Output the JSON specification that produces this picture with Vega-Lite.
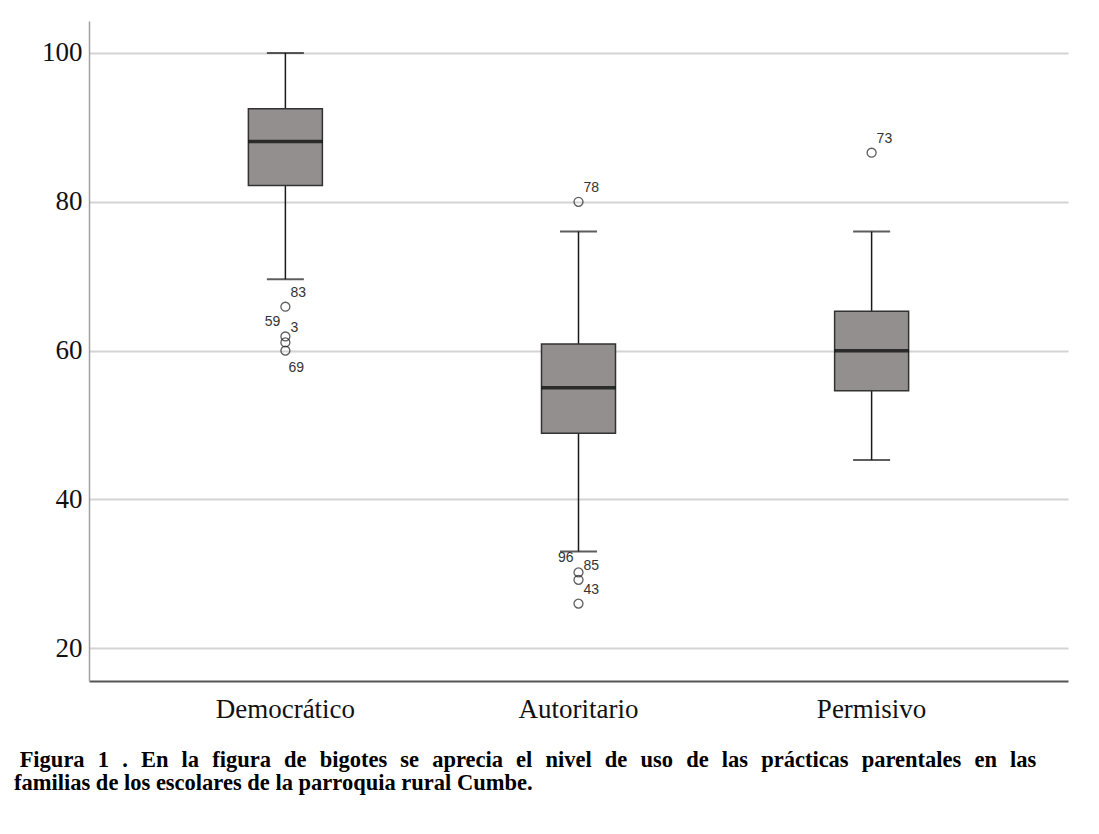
{
  "$schema": "https://vega.github.io/schema/vega-lite/v6.json",
  "width": 979,
  "height": 660,
  "autosize": "none",
  "padding": {"left": 89, "top": 21, "right": 31, "bottom": 153},
  "background": "white",
  "title": {
    "text": ["\u200b\u00a0Figura \u2005\u200a1 \u2005\u200a. \u2005\u200aEn \u2005\u200ala \u2005\u200afigura \u2005\u200ade \u2005\u200abigotes \u2005\u200ase \u2005\u200aaprecia \u2005\u200ael \u2005\u200anivel \u2005\u200ade \u2005\u200auso \u2005\u200ade \u2005\u200alas \u2005\u200aprácticas \u2005\u200aparentales \u2005\u200aen \u2005\u200alas", "familias de los escolares de la parroquia rural Cumbe."],
    "orient": "bottom",
    "anchor": "start",
    "frame": "group",
    "dx": -75,
    "offset": 27,
    "font": "Liberation Serif",
    "fontSize": 22.5,
    "fontWeight": "bold",
    "color": "#000000",
    "lineHeight": 23
  },
  "config": {
    "view": {"stroke": null},
    "axis": {"labelFont": "Liberation Serif", "labelFontSize": 27, "labelColor": "#111111", "ticks": false, "title": null},
    "axisY": {"grid": true, "gridColor": "#d4d4d4", "gridWidth": 2, "domainColor": "#a0a0a0", "domainWidth": 1.5, "labelPadding": 7},
    "axisX": {"grid": false, "domainColor": "#555555", "domainWidth": 2, "labelPadding": 15, "labelAngle": 0}
  },
  "datasets": {
    "stats": [
      {"cat": "Democrático", "lower": 69.6, "q1": 82.2, "median": 88.1, "q3": 92.5, "upper": 100},
      {"cat": "Autoritario", "lower": 33, "q1": 48.9, "median": 55, "q3": 60.9, "upper": 76},
      {"cat": "Permisivo", "lower": 45.3, "q1": 54.6, "median": 60, "q3": 65.3, "upper": 76}
    ],
    "outliers": [
      {"cat": "Democrático", "value": 65.9, "id": "83", "side": "right"},
      {"cat": "Democrático", "value": 61.9, "id": "59", "side": "left"},
      {"cat": "Democrático", "value": 61.1, "id": "3", "side": "right"},
      {"cat": "Democrático", "value": 60.0, "id": "69", "side": "below"},
      {"cat": "Autoritario", "value": 80.0, "id": "78", "side": "right"},
      {"cat": "Autoritario", "value": 30.2, "id": "96", "side": "left"},
      {"cat": "Autoritario", "value": 29.2, "id": "85", "side": "right"},
      {"cat": "Autoritario", "value": 26.0, "id": "43", "side": "right"},
      {"cat": "Permisivo", "value": 86.6, "id": "73", "side": "right"}
    ]
  },
  "encoding": {
    "x": {
      "field": "cat",
      "type": "nominal",
      "sort": ["Democrático", "Autoritario", "Permisivo"],
      "scale": {"paddingOuter": 0.17, "paddingInner": 0},
      "axis": {"title": null}
    }
  },
  "layer": [
    {
      "data": {"name": "stats"},
      "mark": {"type": "rule", "color": "#1a1a1a", "strokeWidth": 1.5},
      "encoding": {
        "y": {"field": "lower", "type": "quantitative", "scale": {"domain": [15.6, 104.3], "nice": false, "zero": false}, "axis": {"title": null, "values": [20, 40, 60, 80, 100]}},
        "y2": {"field": "upper"}
      }
    },
    {
      "data": {"name": "stats"},
      "mark": {"type": "tick", "color": "#1a1a1a", "size": 37, "thickness": 2},
      "encoding": {"y": {"field": "lower", "type": "quantitative", "title": null}}
    },
    {
      "data": {"name": "stats"},
      "mark": {"type": "tick", "color": "#1a1a1a", "size": 37, "thickness": 2},
      "encoding": {"y": {"field": "upper", "type": "quantitative", "title": null}}
    },
    {
      "data": {"name": "stats"},
      "mark": {"type": "bar", "width": 74, "fill": "#938f8f", "stroke": "#333333", "strokeWidth": 1.5},
      "encoding": {
        "y": {"field": "q1", "type": "quantitative", "title": null},
        "y2": {"field": "q3"}
      }
    },
    {
      "data": {"name": "stats"},
      "mark": {"type": "tick", "color": "#000000", "size": 74, "thickness": 3.5},
      "encoding": {"y": {"field": "median", "type": "quantitative", "title": null}}
    },
    {
      "data": {"name": "outliers"},
      "mark": {"type": "point", "shape": "circle", "filled": false, "color": "#1a1a1a", "size": 80, "strokeWidth": 1.3},
      "encoding": {"y": {"field": "value", "type": "quantitative", "title": null}}
    },
    {
      "data": {"name": "outliers"},
      "transform": [{"filter": "datum.side === 'right'"}],
      "mark": {"type": "text", "align": "left", "baseline": "middle", "dx": 5, "dy": -14, "font": "Liberation Sans", "fontSize": 14, "color": "#333333"},
      "encoding": {"y": {"field": "value", "type": "quantitative", "title": null}, "text": {"field": "id"}}
    },
    {
      "data": {"name": "outliers"},
      "transform": [{"filter": "datum.side === 'left'"}],
      "mark": {"type": "text", "align": "right", "baseline": "middle", "dx": -5, "dy": -14, "font": "Liberation Sans", "fontSize": 14, "color": "#333333"},
      "encoding": {"y": {"field": "value", "type": "quantitative", "title": null}, "text": {"field": "id"}}
    },
    {
      "data": {"name": "outliers"},
      "transform": [{"filter": "datum.side === 'below'"}],
      "mark": {"type": "text", "align": "left", "baseline": "middle", "dx": 3, "dy": 17, "font": "Liberation Sans", "fontSize": 14, "color": "#333333"},
      "encoding": {"y": {"field": "value", "type": "quantitative", "title": null}, "text": {"field": "id"}}
    }
  ]
}
